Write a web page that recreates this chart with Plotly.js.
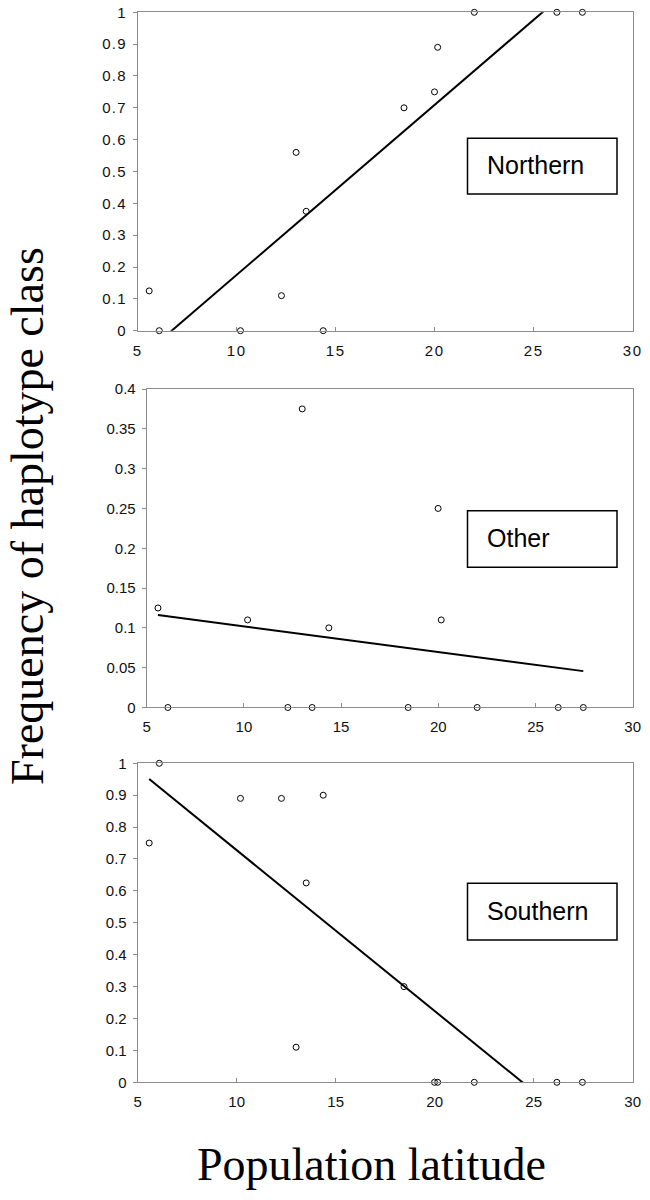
<!DOCTYPE html>
<html>
<head>
<meta charset="utf-8">
<script src="https://cdn.plot.ly/plotly-3.0.1.min.js"></script>
<style>
  html, body { margin: 0; padding: 0; background: #fff; }
  #chart { width: 650px; height: 1200px; }
  #chart .xtick text { font-size: 15px !important; letter-spacing: 1.5px !important; }
  #chart .ytick text { font-size: 15px !important; letter-spacing: 1.2px !important; }
</style>
</head>
<body>
<div id="chart"></div>
<script>
// Population latitude of each sampled population
var latitude = [5.58, 6.09, 10.19, 12.26, 13.0, 13.51, 14.37, 18.45, 19.99, 20.15, 22.0, 26.17, 27.46];
// Frequency of each haplotype class per population
var northern = [0.125, 0, 0, 0.11, 0.56, 0.375, 0, 0.70, 0.75, 0.89, 1, 1, 1];
var other    = [0.125, 0, 0.11, 0, 0.375, 0, 0.10, 0, 0.25, 0.11, 0, 0, 0];
var southern = [0.75, 1, 0.89, 0.89, 0.11, 0.625, 0.90, 0.30, 0, 0, 0, 0, 0];

var panelNames = ["Northern", "Other", "Southern"];
var xTicks = [5, 10, 15, 20, 25, 30];

function linfit(x, y) {
  var n = x.length, mx = 0, my = 0;
  for (var i = 0; i < n; i++) { mx += x[i]; my += y[i]; }
  mx /= n; my /= n;
  var sxy = 0, sxx = 0;
  for (var j = 0; j < n; j++) { sxy += (x[j] - mx) * (y[j] - my); sxx += (x[j] - mx) * (x[j] - mx); }
  var b = sxy / sxx;
  return { slope: b, intercept: my - b * mx };
}

var series = [northern, other, southern];
var traces = [];
var xmin = Math.min.apply(null, latitude), xmax = Math.max.apply(null, latitude);
series.forEach(function (ys, k) {
  var ax = k === 0 ? "" : String(k + 1);
  var fit = linfit(latitude, ys);
  traces.push({
    type: "scatter", mode: "lines",
    x: [xmin, xmax],
    y: [fit.intercept + fit.slope * xmin, fit.intercept + fit.slope * xmax],
    xaxis: "x" + ax, yaxis: "y" + ax,
    line: { color: "#000", width: 2 },
    hoverinfo: "skip", showlegend: false
  });
  traces.push({
    type: "scatter", mode: "markers",
    x: latitude, y: ys,
    xaxis: "x" + ax, yaxis: "y" + ax,
    cliponaxis: false,
    marker: { symbol: "circle-open", size: 6, color: "#000", line: { width: 1, color: "#000" } },
    name: panelNames[k], showlegend: false
  });
});

function xAxis(domain, anchor) {
  return {
    domain: domain, anchor: anchor, range: [5, 30], tickvals: xTicks,
    showline: true, mirror: true, linecolor: "#8c8c8c", linewidth: 1,
    ticks: "inside", ticklen: 4, tickcolor: "#8c8c8c",
    showgrid: false, zeroline: false,
    tickfont: { family: "Arial", size: 15, color: "#111" }, ticklabelstandoff: 6
  };
}
function yAxis(domain, anchor, range, dtick) {
  return {
    domain: domain, anchor: anchor, range: range, dtick: dtick, tick0: 0,
    showline: true, mirror: true, linecolor: "#8c8c8c", linewidth: 1,
    ticks: "outside", ticklen: 4, tickcolor: "#8c8c8c",
    showgrid: false, zeroline: false,
    tickfont: { family: "Arial", size: 15, color: "#111" }, ticklabelstandoff: 3
  };
}

var boxX0 = 467.5 / 650, boxX1 = 617 / 650;
var boxes = [[0.83833, 0.88475], [0.52725, 0.57442], [0.21667, 0.26392]];
var labelY = [0.8625, 0.5517, 0.2408];

var shapes = boxes.map(function (b) {
  return { type: "rect", xref: "paper", yref: "paper", x0: boxX0, x1: boxX1, y0: b[0], y1: b[1],
           line: { color: "#000", width: 1.5 }, fillcolor: "#fff", layer: "above" };
});

var annotations = panelNames.map(function (name, k) {
  return { text: name, xref: "paper", yref: "paper", x: 485 / 650, y: labelY[k],
           xanchor: "left", yanchor: "middle", showarrow: false,
           font: { family: "Arial", size: 25, color: "#000" } };
});
annotations.push({
  text: "Frequency of haplotype class", xref: "paper", yref: "paper",
  x: 28 / 650, y: 1 - 516 / 1200, xanchor: "center", yanchor: "middle", textangle: -90,
  showarrow: false, font: { family: "Liberation Serif, Times New Roman, serif", size: 46, color: "#000" }
});
annotations.push({
  text: "Population latitude", xref: "paper", yref: "paper",
  x: 371 / 650, y: 1 - 1164 / 1200, xanchor: "center", yanchor: "middle",
  showarrow: false, font: { family: "Liberation Serif, Times New Roman, serif", size: 46, color: "#000" }
});

var xdA = [137.7 / 650, 632.7 / 650];
var xdB = [146.7 / 650, 632.7 / 650];
var layout = {
  width: 650, height: 1200,
  margin: { l: 0, r: 0, t: 0, b: 0 },
  font: { family: "Arial", size: 15, color: "#111" },
  paper_bgcolor: "#fff", plot_bgcolor: "#fff",
  showlegend: false,
  xaxis: xAxis(xdA, "y"),
  yaxis: yAxis([0.72442, 0.98975], "x", [0, 1], 0.1),
  xaxis2: xAxis(xdB, "y2"),
  yaxis2: yAxis([0.41042, 0.67583], "x2", [0, 0.4], 0.05),
  xaxis3: xAxis(xdA, "y3"),
  yaxis3: yAxis([0.09808, 0.36392], "x3", [0, 1], 0.1),
  shapes: shapes,
  annotations: annotations
};

Plotly.newPlot("chart", traces, layout, { staticPlot: true, displayModeBar: false });
</script>
</body>
</html>
